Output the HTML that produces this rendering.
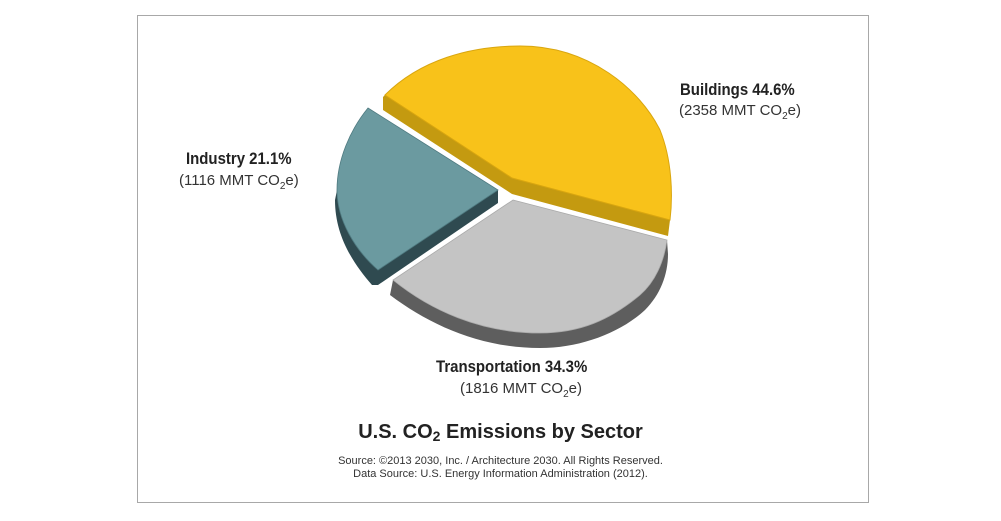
<!DOCTYPE html>
<html><head><style>
body{margin:0;width:1001px;height:521px;background:#fff;overflow:hidden;font-family:"Liberation Sans",sans-serif;}
.box{position:absolute;left:137px;top:15px;width:730px;height:486px;border:1px solid #a8a8a8;}
.t{position:absolute;color:#222;white-space:nowrap}
.b{font-weight:bold;font-size:17px;transform:scaleX(0.88);transform-origin:left top;font-family:"Liberation Sans Narrow","Liberation Sans",sans-serif}
.s{font-size:15px;color:#333}
sub{font-size:10px}
</style></head><body>
<div class="box"></div>
<svg width="1001" height="521" style="position:absolute;left:0;top:0">
<path fill="#c49a10" d="M385,95 L383,97 L383,110 L512,194 L668,236 L670,220 L512,178 Z"/>
<path fill="#f8c21a" stroke="#d9a60f" stroke-width="1" d="M385,95 C420,60 470,46 520,46 C590,46 640,90 660,130 C672,160 673,195 670,220 L512,178 Z"/>
<path fill="#2f4a50" d="M498,190 L498,203 L378,285 L372,285 C352,262 335,235 335,200 L337,190 C337,220 355,250 378,270 Z"/>
<path fill="#6b9aa0" stroke="#4f7a80" stroke-width="0.8" d="M368,108 L498,190 L378,270 C355,250 337,220 337,190 C337,160 350,130 368,108 Z"/>
<path fill="#5e5e5e" d="M393,280 L390,295 C430,325 480,348 540,348 C580,348 620,333 645,310 C660,295 668,275 668,254 L667,240 C664,262 655,282 640,295 C610,320 580,333 540,333 C480,333 430,310 393,280 Z"/>
<path fill="#c4c4c4" stroke="#aaa" stroke-width="0.8" d="M513,200 L667,240 C664,262 655,282 640,295 C610,320 580,333 540,333 C480,333 430,310 393,280 Z"/>
</svg>
<div class="t b" style="left:680px;top:80px">Buildings 44.6%</div>
<div class="t s" style="left:679px;top:102px">(2358 MMT CO<sub>2</sub>e)</div>
<div class="t b" style="left:186px;top:149px">Industry 21.1%</div>
<div class="t s" style="left:179px;top:172px">(1116 MMT CO<sub>2</sub>e)</div>
<div class="t b" style="left:436px;top:357px">Transportation 34.3%</div>
<div class="t s" style="left:460px;top:380px">(1816 MMT CO<sub>2</sub>e)</div>
<div class="t" style="left:0;width:1001px;text-align:center;top:421px;font-size:20px;font-weight:bold;color:#222">U.S. CO<span style="font-size:14px;vertical-align:-3px">2</span> Emissions by Sector</div>
<div class="t" style="left:0;width:1001px;text-align:center;top:455px;font-size:11px;color:#333;line-height:13px">Source: ©2013 2030, Inc. / Architecture 2030. All Rights Reserved.<br>Data Source: U.S. Energy Information Administration (2012).</div>
</body></html>
